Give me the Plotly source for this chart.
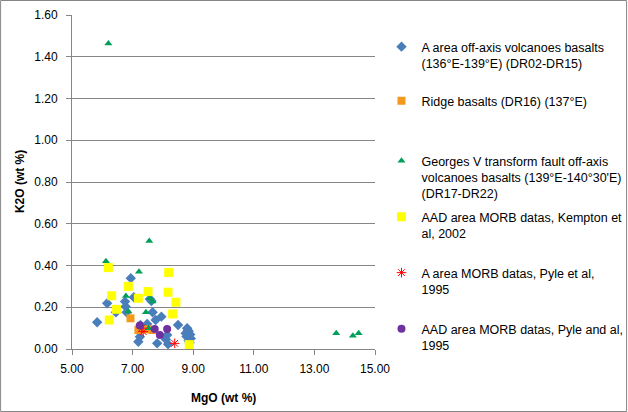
import plotly.graph_objects as go

# ---- data ----
a_area_mgo = [5.83, 6.16, 6.94, 6.75, 6.77, 6.80, 6.45, 7.04, 7.57, 7.62, 7.66, 7.76, 7.95, 8.50, 7.48,
              7.24, 7.19, 7.81, 8.10, 8.17, 8.14, 7.26, 8.80, 8.85, 8.90, 8.78, 8.92, 8.85, 8.75, 8.88, 8.82]
a_area_k2o = [0.128, 0.219, 0.339, 0.227, 0.203, 0.176, 0.176, 0.248, 0.240, 0.230, 0.176, 0.139, 0.155, 0.115, 0.120,
              0.059, 0.035, 0.027, 0.046, 0.023, 0.067, 0.115, 0.100, 0.085, 0.070, 0.060, 0.050, 0.040, 0.075, 0.030, 0.090]

ridge_mgo = [6.93, 7.19, 7.51, 7.65]
ridge_k2o = [0.147, 0.091, 0.094, 0.091]

georges_mgo = [6.20, 6.12, 7.55, 7.21, 6.78, 6.86, 7.57, 7.66, 7.44, 7.53, 13.72, 14.27, 14.46]
georges_k2o = [1.464, 0.420, 0.517, 0.370, 0.254, 0.180, 0.243, 0.227, 0.176, 0.099, 0.075, 0.064, 0.075]

kempton_mgo = [6.20, 6.31, 6.47, 6.23, 6.86, 7.19, 7.51, 8.19, 8.17, 8.43, 8.32, 8.87]
kempton_k2o = [0.390, 0.255, 0.190, 0.139, 0.300, 0.243, 0.275, 0.367, 0.272, 0.224, 0.168, 0.021]

pyle_a_mgo = [7.30, 7.35, 8.39]
pyle_a_k2o = [0.100, 0.083, 0.027]

pyle_aad_mgo = [7.24, 7.73, 7.90, 8.14]
pyle_aad_k2o = [0.112, 0.096, 0.067, 0.096]

names = [
    "A area off-axis volcanoes basalts<br>(136°E-139°E) (DR02-DR15)",
    "Ridge basalts (DR16) (137°E)",
    "Georges V transform fault off-axis<br>volcanoes basalts (139°E-140°30'E)<br>(DR17-DR22)",
    "AAD area MORB datas, Kempton et<br>al, 2002",
    "A area MORB datas, Pyle et al,<br>1995",
    "AAD area MORB datas, Pyle and al,<br>1995",
]

FONT = "Liberation Sans"
L, R, T, B = 72, 252.5, 15, 63
W, H = 628, 412
pw, ph = W - L - R, H - T - B

fig = go.Figure()
series = [
    (a_area_mgo, a_area_k2o, dict(symbol="diamond", size=8, color="#4A7EBB")),
    (ridge_mgo, ridge_k2o, dict(symbol="square", size=8, color="#F39A1E")),
    (georges_mgo, georges_k2o, dict(symbol="triangle-up", size=7, color="#00A05A")),
    (kempton_mgo, kempton_k2o, dict(symbol="square", size=9, color="#FFFF00")),
    (pyle_a_mgo, pyle_a_k2o, dict(symbol="asterisk-open", size=8, color="#FF0000", line=dict(color="#FF0000", width=1))),
    (pyle_aad_mgo, pyle_aad_k2o, dict(symbol="circle", size=8, color="#7030A0")),
]
legend_ids = ["legend", "legend2", "legend3", "legend4", "legend5", "legend6"]
for (xs, ys, mk), nm, lg in zip(series, names, legend_ids):
    fig.add_trace(go.Scatter(x=xs, y=ys, mode="markers", name=nm, marker=mk, legend=lg))

line_tops = [32, 86, 146, 202, 258, 314]
leg_x = (382 - L) / pw
legend_layout = {}
for lg, top in zip(legend_ids, line_tops):
    legend_layout[lg] = dict(
        x=leg_x, xanchor="left", y=1 - (top - T) / ph, yanchor="top",
        font=dict(family=FONT, size=12.5, color="#000000"),
        bgcolor="rgba(0,0,0,0)", valign="top", itemsizing="trace",
    )

axis_font = dict(family=FONT, size=12, color="#000000")
title_font = dict(family=FONT, size=12, color="#000000")
fig.update_layout(
    width=W, height=H,
    margin=dict(l=L, r=R, t=T, b=B, autoexpand=False),
    paper_bgcolor="white", plot_bgcolor="white",
    showlegend=True,
    xaxis=dict(range=[5, 15], dtick=2, tick0=5, tickformat=".2f", showgrid=False,
               showline=True, linecolor="#868686", linewidth=1, ticks="outside", ticklen=5,
               tickcolor="#868686", tickfont=axis_font, zeroline=False, automargin=False,
               ticklabelstandoff=4),
    yaxis=dict(range=[0, 1.6], dtick=0.2, tickformat=".2f", showgrid=True, gridcolor="#868686",
               gridwidth=1, showline=True, linecolor="#868686", linewidth=1, ticks="outside",
               ticklen=5, tickcolor="#868686", tickfont=axis_font, zeroline=False, automargin=False,
               ticklabelstandoff=6),
    annotations=[
        dict(text="<b>MgO (wt %)</b>", xref="paper", yref="paper", x=0.5, y=-(398 - T - ph) / ph,
             xanchor="center", yanchor="middle", showarrow=False, font=title_font),
        dict(text="<b>K2O (wt %)</b>", xref="paper", yref="paper", x=-(L - 20) / pw, y=0.5,
             xanchor="center", yanchor="middle", textangle=-90, showarrow=False, font=title_font),
    ],
    shapes=[dict(type="rect", xref="paper", yref="paper",
                 x0=(-L + 0.5) / pw, x1=(W - L - 0.5) / pw,
                 y0=-(B - 0.5) / ph, y1=1 + (T - 0.5) / ph,
                 line=dict(color="#868686", width=1), fillcolor="rgba(0,0,0,0)", layer="below")],
    **legend_layout,
)

fig.write_html("out.html", config={"displayModeBar": False},
               post_script="document.body.style.margin='0px';")
